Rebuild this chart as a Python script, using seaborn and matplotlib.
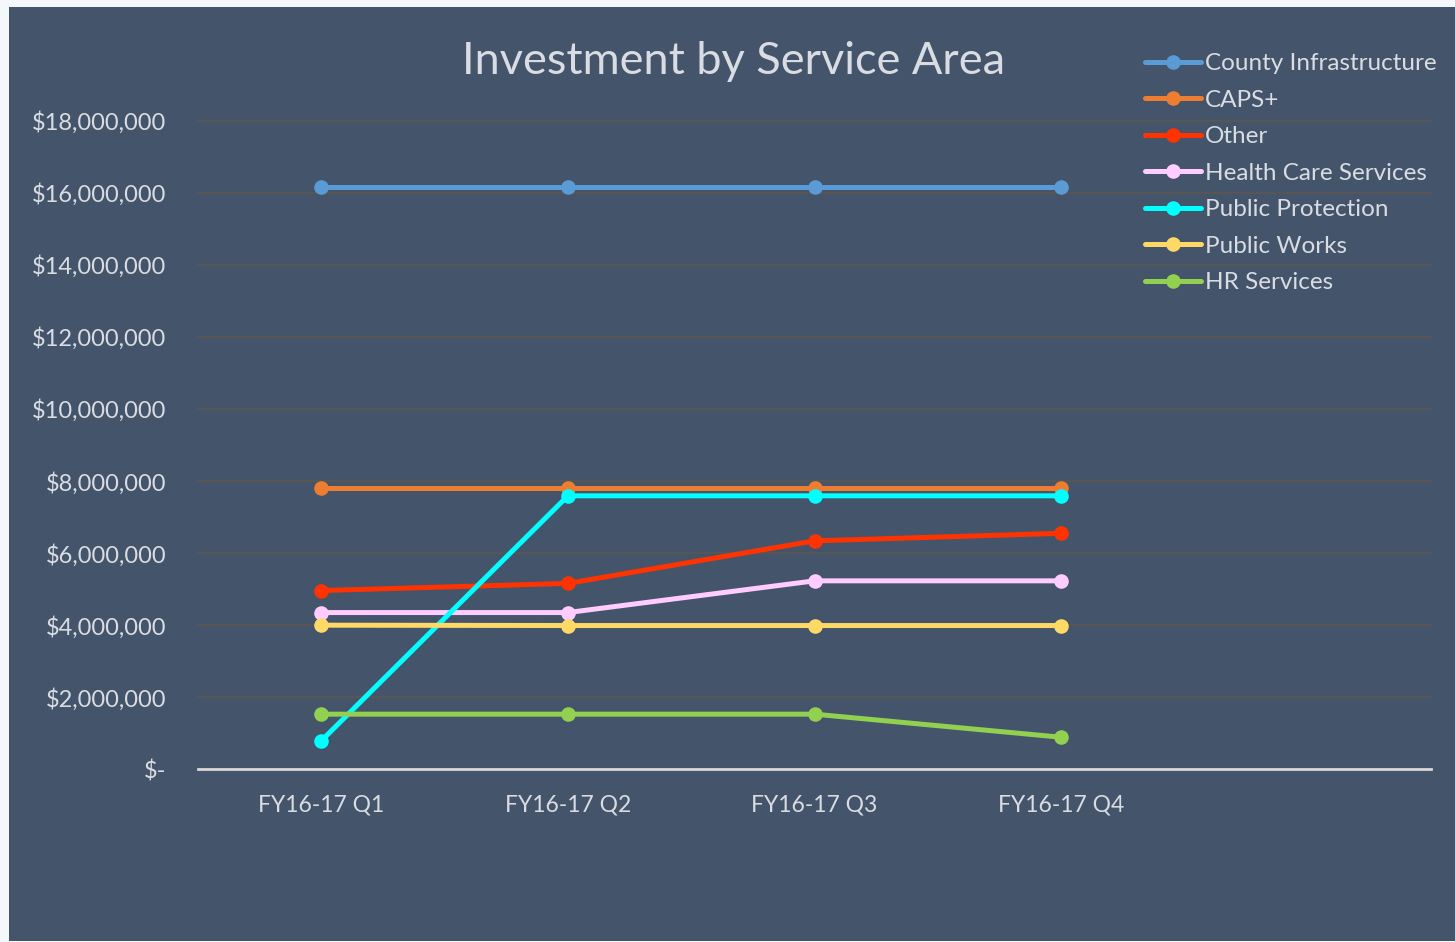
import matplotlib
matplotlib.use("Agg")
import matplotlib.pyplot as plt
from matplotlib.lines import Line2D
from matplotlib.patches import Rectangle
from matplotlib.ticker import FuncFormatter
import pandas as pd
import seaborn as sns

quarters = ["FY16-17 Q1", "FY16-17 Q2", "FY16-17 Q3", "FY16-17 Q4"]
areas = ["County Infrastructure", "CAPS+", "Other", "Health Care Services",
         "Public Protection", "Public Works", "HR Services"]

county_infra = [16170000, 16170000, 16170000, 16170000]
caps_plus = [7800000, 7800000, 7800000, 7800000]
other = [4960000, 5160000, 6340000, 6550000]
health_care = [4350000, 4350000, 5230000, 5230000]
public_protection = [790000, 7590000, 7590000, 7590000]
public_works = [4000000, 3990000, 3990000, 3990000]
hr_services = [1530000, 1530000, 1530000, 890000]

colors = ["#5B9BD5", "#ED7D31", "#FF3300", "#FFCCFF", "#00FFFF", "#FFD966", "#92D050"]

series = [county_infra, caps_plus, other, health_care,
          public_protection, public_works, hr_services]
rows = []
for name, vals in zip(areas, series):
    for q, v in zip(quarters, vals):
        rows.append({"Quarter": q, "Area": name, "Value": v})
df = pd.DataFrame(rows)

bg = "#44546A"
txt = "#D9DDE3"

sns.set_theme(style="white")
plt.rcParams["font.family"] = ["Lato", "DejaVu Sans"]

fig = plt.figure(figsize=(14.55, 9.42), dpi=100, facecolor="#F5F8FB")
fig.patches.append(Rectangle((9 / 1455, 1 / 942), 1 - 9 / 1455, 1 - 8 / 942,
                             transform=fig.transFigure, facecolor=bg,
                             edgecolor="none", zorder=-10))

ax = fig.add_axes([198 / 1455, 1 - 769.3 / 942, (1431 - 198) / 1455, (769.3 - 120.7) / 942])
ax.set_facecolor("none")

sns.lineplot(data=df, x="Quarter", y="Value", hue="Area", hue_order=areas,
             palette=colors, marker="o", markersize=10.5, markeredgewidth=0,
             linewidth=3.6, sort=False, legend=False, ax=ax)

ax.set_xlim(-0.5, 4.5)
ax.set_ylim(0, 18000000)
ax.set_yticks(range(0, 18000001, 2000000))


def money(v, pos):
    if v == 0:
        return "$-"
    return "${:,.0f}".format(v)


ax.yaxis.set_major_formatter(FuncFormatter(money))
ax.grid(axis="y", color="#565656", linewidth=1.6)
ax.grid(axis="x", visible=False)
for gl in ax.get_ygridlines():
    gl.set_clip_on(False)
for s in ["top", "right", "left"]:
    ax.spines[s].set_visible(False)
ax.spines["bottom"].set_color("#D9D9D9")
ax.spines["bottom"].set_linewidth(2)
ax.spines["bottom"].set_zorder(5)

ax.tick_params(axis="y", length=0, pad=23, labelsize=17, labelcolor=txt)
ax.tick_params(axis="x", length=0, pad=18, labelsize=16.5, labelcolor=txt)
ax.set_xlabel("")
ax.set_ylabel("")

fig.text(734 / 1455, 1 - 61 / 942, "Investment by Service Area", ha="center",
         va="center", fontsize=32.5, color=txt)

handles = [Line2D([0], [0], color=c, linewidth=3.6, marker="o", markersize=10.5,
                  markeredgewidth=0) for c in colors]
fig.legend(handles, areas, loc="upper left",
           bbox_to_anchor=(1145 / 1455, 1 - 53 / 942), frameon=False,
           fontsize=17.5, labelcolor=txt, handlelength=2.3, handletextpad=0.17,
           labelspacing=0.64, borderpad=0, borderaxespad=0)

fig.savefig("out.png", dpi=100, facecolor=fig.get_facecolor())
